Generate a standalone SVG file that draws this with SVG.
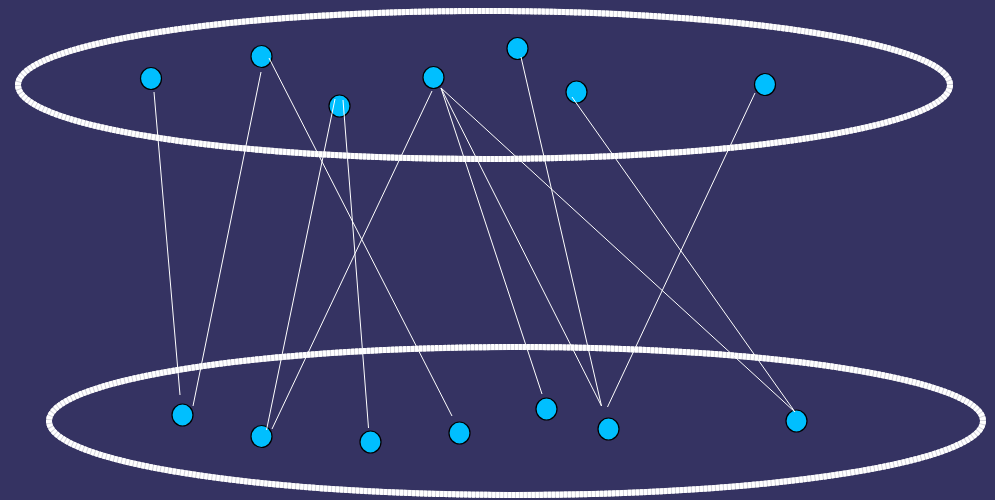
<svg xmlns="http://www.w3.org/2000/svg" width="995" height="500" viewBox="0 0 995 500">
<style>
.ringbase{fill:none;stroke:#d4d4dc;stroke-width:6}
.ring{fill:none;stroke:#ffffff;stroke-width:6;stroke-dasharray:3 1}
.node{fill:#00bfff;stroke:#000000;stroke-width:1.2}
.edge{stroke:#ffffff;stroke-width:1;fill:none}
</style>
<rect width="995" height="500" fill="#353362"/>
<ellipse class="ringbase" cx="484" cy="85" rx="466" ry="74"/>
<ellipse class="ring" cx="484" cy="85" rx="466" ry="74"/>
<ellipse class="ringbase" cx="516" cy="421" rx="467" ry="74"/>
<ellipse class="ring" cx="516" cy="421" rx="467" ry="74"/>
<g id="n1"><ellipse class="node" cx="151" cy="78.5" rx="10.5" ry="11"/></g>
<g id="n2"><ellipse class="node" cx="261.5" cy="56.5" rx="10.5" ry="11"/></g>
<g id="n3"><ellipse class="node" cx="339.5" cy="106" rx="10.5" ry="11"/></g>
<g id="n4"><ellipse class="node" cx="433.5" cy="77.5" rx="10.5" ry="11"/></g>
<g id="n5"><ellipse class="node" cx="517.5" cy="48.5" rx="10.5" ry="11"/></g>
<g id="n6"><ellipse class="node" cx="576.5" cy="92" rx="10.5" ry="11"/></g>
<g id="n7"><ellipse class="node" cx="765" cy="84.5" rx="10.5" ry="11"/></g>
<g id="n8"><ellipse class="node" cx="182.5" cy="415" rx="10.5" ry="11"/></g>
<g id="n9"><ellipse class="node" cx="261.5" cy="436.5" rx="10.5" ry="11"/></g>
<g id="n10"><ellipse class="node" cx="370.5" cy="442" rx="10.5" ry="11"/></g>
<g id="n11"><ellipse class="node" cx="459.5" cy="433" rx="10.5" ry="11"/></g>
<g id="n12"><ellipse class="node" cx="546.5" cy="409" rx="10.5" ry="11"/></g>
<g id="n13"><ellipse class="node" cx="608.5" cy="429" rx="10.5" ry="11"/></g>
<g id="n14"><ellipse class="node" cx="796.5" cy="421" rx="10.5" ry="11"/></g>
<g id="connectors">
<line class="edge" x1="154" y1="92" x2="180" y2="395"/>
<line class="edge" x1="261" y1="72" x2="193" y2="406"/>
<line class="edge" x1="269" y1="58" x2="452" y2="416"/>
<line class="edge" x1="335" y1="99" x2="266.5" y2="430"/>
<line class="edge" x1="343" y1="100" x2="368.5" y2="428"/>
<line class="edge" x1="432" y1="91" x2="272" y2="429"/>
<line class="edge" x1="441" y1="88" x2="542" y2="394"/>
<line class="edge" x1="441" y1="88" x2="601.5" y2="406"/>
<line class="edge" x1="441" y1="88" x2="795" y2="412"/>
<line class="edge" x1="521" y1="57" x2="601.5" y2="406"/>
<line class="edge" x1="572" y1="97" x2="795" y2="412"/>
<line class="edge" x1="755" y1="93" x2="607.5" y2="407"/>
</g>
</svg>
